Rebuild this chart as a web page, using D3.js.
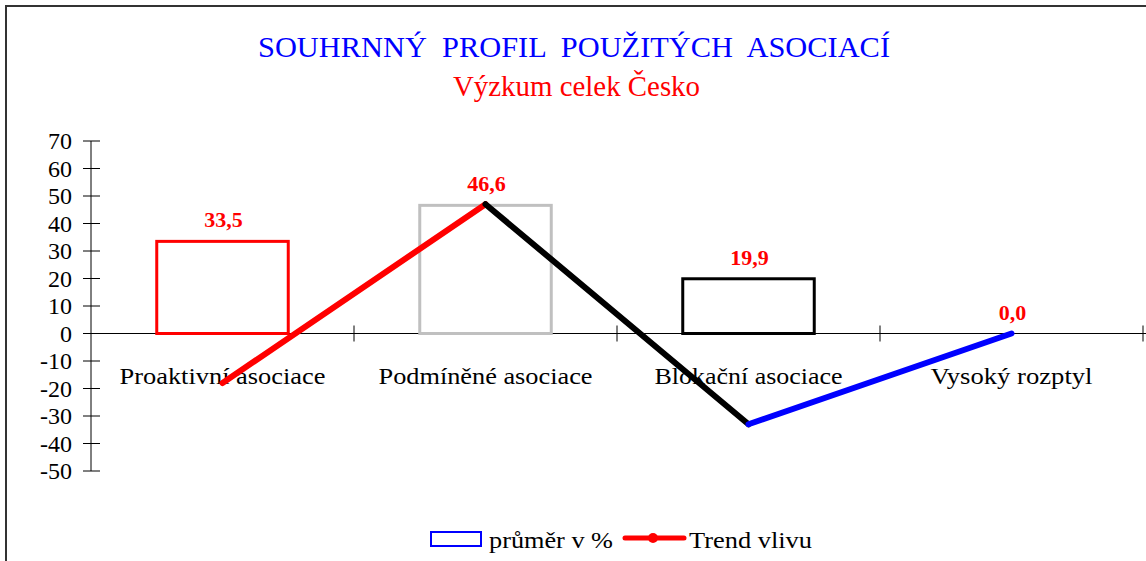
<!DOCTYPE html>
<html>
<head>
<meta charset="utf-8">
<script src="https://cdn.jsdelivr.net/npm/d3@7"></script>
<style>
  body { margin: 0; background: #fff; }
</style>
</head>
<body>
<div id="chart"></div>
<script>
// Chart data
const categories = ['Proaktivní asociace', 'Podmíněné asociace', 'Blokační asociace', 'Vysoký rozptyl']
const averages = [33.5, 46.6, 19.9, 0.0]
const trend = [-18, 47, -33, 0]
const barColors = ['#ff0000', '#c0c0c0', '#000000', '#0000ff']
const trendColors = ['#ff0000', '#000000', '#0000ff']
const yTicks = [70, 60, 50, 40, 30, 20, 10, 0, -10, -20, -30, -40, -50]

const width = 1146
const height = 561
const plot = { left: 91, right: 1143, top: 141, bottom: 471 }
const serif = "'Liberation Serif', 'Times New Roman', Times, serif"

const svg = d3.select('#chart')
  .append('svg')
  .attr('width', width)
  .attr('height', height)
  .attr('font-family', serif)
  .style('font-family', serif)

// Frame
svg.append('path')
  .attr('d', `M6,${height} V6 H${width}`)
  .attr('fill', 'none')
  .attr('stroke', '#333')
  .attr('stroke-width', 2)

// Titles
svg.append('text')
  .text('SOUHRNNÝ  PROFIL  POUŽITÝCH  ASOCIACÍ')
  .attr('x', 258).attr('y', 57)
  .attr('textLength', 632)
  .attr('lengthAdjust', 'spacingAndGlyphs')
  .style('white-space', 'pre')
  .attr('font-size', 30)
  .attr('fill', '#0000ff')

svg.append('text')
  .text('Výzkum celek Česko')
  .attr('x', 453).attr('y', 96)
  .attr('textLength', 247)
  .attr('lengthAdjust', 'spacingAndGlyphs')
  .attr('font-size', 29)
  .attr('fill', '#ff0000')

// Scales
const x = d3.scaleBand()
  .domain(categories)
  .range([plot.left, plot.right])

const y = d3.scaleLinear()
  .domain([-50, 70])
  .range([plot.bottom, plot.top])

// Y axis
const yAxis = svg.append('g').attr('class', 'y-axis')
yAxis.append('line')
  .attr('x1', plot.left).attr('x2', plot.left)
  .attr('y1', y(70)).attr('y2', y(-50))
  .attr('stroke', '#000')
yAxis.selectAll('line.tick')
  .data(yTicks)
  .join('line')
  .attr('class', 'tick')
  .attr('x1', plot.left - 8).attr('x2', plot.left + 9)
  .attr('y1', d => y(d)).attr('y2', d => y(d))
  .attr('stroke', '#000')
yAxis.selectAll('text')
  .data(yTicks)
  .join('text')
  .text(d => d)
  .attr('x', 72)
  .attr('y', d => y(d) + 8)
  .attr('text-anchor', 'end')
  .attr('font-size', 24)

// X axis at zero
const xAxis = svg.append('g').attr('class', 'x-axis')
xAxis.append('line')
  .attr('x1', plot.left).attr('x2', width)
  .attr('y1', y(0)).attr('y2', y(0))
  .attr('stroke', '#000')
xAxis.selectAll('line.tick')
  .data(categories)
  .join('line')
  .attr('class', 'tick')
  .attr('x1', d => x(d) + x.bandwidth()).attr('x2', d => x(d) + x.bandwidth())
  .attr('y1', y(0) - 8).attr('y2', y(0) + 8)
  .attr('stroke', '#000')

const labelWidths = [206, 214, 188, 162]
xAxis.selectAll('text')
  .data(categories)
  .join('text')
  .text(d => d)
  .attr('x', d => x(d) + x.bandwidth() / 2)
  .attr('y', y(0) + 50)
  .attr('text-anchor', 'middle')
  .attr('textLength', (d, i) => labelWidths[i])
  .attr('lengthAdjust', 'spacingAndGlyphs')
  .attr('font-size', 24)

// Bars (outlined)
const barW = x.bandwidth() * 0.5
svg.append('g')
  .selectAll('rect')
  .data(averages)
  .join('rect')
  .attr('x', (d, i) => x(categories[i]) + (x.bandwidth() - barW) / 2)
  .attr('y', d => y(Math.max(d, 0)))
  .attr('width', barW)
  .attr('height', d => Math.abs(y(d) - y(0)))
  .attr('fill', 'none')
  .attr('stroke', (d, i) => barColors[i])
  .attr('stroke-width', 3)

// Trend line, one colour per segment
const pts = trend.map((v, i) => [x(categories[i]) + x.bandwidth() / 2, y(v)])
svg.append('g')
  .selectAll('line')
  .data(d3.pairs(pts))
  .join('line')
  .attr('x1', d => d[0][0]).attr('y1', d => d[0][1])
  .attr('x2', d => d[1][0]).attr('y2', d => d[1][1])
  .attr('stroke', (d, i) => trendColors[i])
  .attr('stroke-width', 6)
  .attr('stroke-linecap', 'round')

// Value labels
svg.append('g')
  .selectAll('text')
  .data(averages)
  .join('text')
  .text(d => d.toFixed(1).replace('.', ','))
  .attr('x', (d, i) => x(categories[i]) + x.bandwidth() / 2 + 1)
  .attr('y', d => y(Math.max(d, 0)) - 14)
  .attr('text-anchor', 'middle')
  .attr('font-size', 22)
  .attr('font-weight', 'bold')
  .attr('fill', '#ff0000')

// Legend
const legend = svg.append('g')
legend.append('rect')
  .attr('x', 431).attr('y', 532)
  .attr('width', 50).attr('height', 14)
  .attr('fill', 'none')
  .attr('stroke', '#0000ff')
  .attr('stroke-width', 2)
legend.append('text')
  .text('průměr v %')
  .attr('x', 489).attr('y', 548)
  .attr('textLength', 124)
  .attr('lengthAdjust', 'spacingAndGlyphs')
  .attr('font-size', 24)
legend.append('line')
  .attr('x1', 625).attr('x2', 684)
  .attr('y1', 538).attr('y2', 538)
  .attr('stroke', '#ff0000')
  .attr('stroke-width', 5)
  .attr('stroke-linecap', 'round')
legend.append('circle')
  .attr('cx', 653).attr('cy', 538).attr('r', 5)
  .attr('fill', '#ff0000')
legend.append('text')
  .text('Trend vlivu')
  .attr('x', 689).attr('y', 548)
  .attr('textLength', 123)
  .attr('lengthAdjust', 'spacingAndGlyphs')
  .attr('font-size', 24)
</script>
</body>
</html>
